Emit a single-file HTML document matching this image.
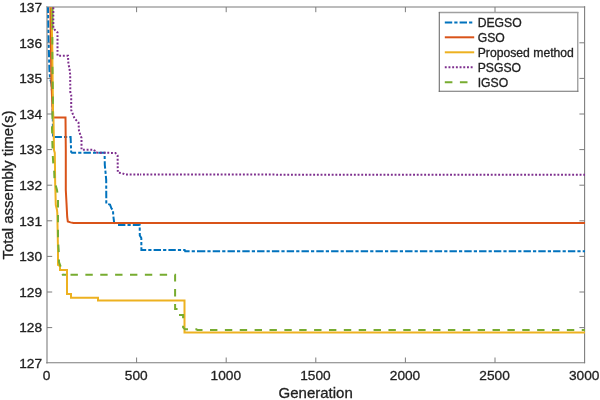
<!DOCTYPE html>
<html><head><meta charset="utf-8"><title>Convergence plot</title>
<style>html,body{margin:0;padding:0;background:#fff;}body{width:600px;height:400px;overflow:hidden;}</style>
</head><body>
<svg width="600" height="400" viewBox="0 0 600 400" style="display:block">
<rect width="600" height="400" fill="#fff"/>
<g fill="none">
<path d="M46.2,6.9 H585.1" stroke="#a6a6a6" stroke-width="1.5"/>
<path d="M47.0,6.2 V363.4" stroke="#a6a6a6" stroke-width="1.6"/>
<path d="M46.2,362.8 H585.1" stroke="#7d7d7d" stroke-width="1.1"/>
<path d="M584.6,6.2 V363.3" stroke="#7d7d7d" stroke-width="1.1"/>
<g stroke="#7d7d7d" stroke-width="1">
<path d="M136.6,362.7 v-5.2 M136.6,7.0 v5.2"/>
<path d="M226.2,362.7 v-5.2 M226.2,7.0 v5.2"/>
<path d="M315.8,362.7 v-5.2 M315.8,7.0 v5.2"/>
<path d="M405.4,362.7 v-5.2 M405.4,7.0 v5.2"/>
<path d="M495.0,362.7 v-5.2 M495.0,7.0 v5.2"/>
<path d="M47.0,327.6 h5.2 M584.6,327.6 h-5.2"/>
<path d="M47.0,292.0 h5.2 M584.6,292.0 h-5.2"/>
<path d="M47.0,256.4 h5.2 M584.6,256.4 h-5.2"/>
<path d="M47.0,220.8 h5.2 M584.6,220.8 h-5.2"/>
<path d="M47.0,185.2 h5.2 M584.6,185.2 h-5.2"/>
<path d="M47.0,149.6 h5.2 M584.6,149.6 h-5.2"/>
<path d="M47.0,114.0 h5.2 M584.6,114.0 h-5.2"/>
<path d="M47.0,78.4 h5.2 M584.6,78.4 h-5.2"/>
<path d="M47.0,42.8 h5.2 M584.6,42.8 h-5.2"/>
</g></g>
<g fill="none" stroke-width="2" stroke-linejoin="miter" stroke-linecap="butt">
<path d="M48.00,7.30 L48.60,40.00 L49.40,70.00 L50.00,78.00 L51.50,84.00 L52.60,100.00 L53.00,137.00 L70.60,137.00 L71.20,152.70" stroke="#0072BD" stroke-dasharray="7.4 2.1 3.2 2.1" stroke-dashoffset="-13.06"/>
<path d="M71.20,152.70 L104.60,152.70 L104.80,165.00 L105.50,172.00 L106.20,180.00 L106.30,203.60 L110.00,204.60 L111.50,208.50 L113.00,210.00 L113.20,215.00 L114.20,223.00 L116.00,225.00" stroke="#0072BD" stroke-dasharray="7.4 2.1 3.2 2.1" stroke-dashoffset="-12.30"/>
<path d="M116.00,225.00 L139.70,225.00 L139.80,235.50 L141.30,238.00 L141.40,249.90 L184.70,249.90 L185.20,251.30 L200.00,251.30" stroke="#0072BD" stroke-dasharray="7.4 2.1 3.2 2.1" stroke-dashoffset="-2.00"/>
<path d="M200.00,251.30 L585.00,251.30" stroke="#0072BD" stroke-dasharray="7.4 2.1 3.2 2.1" stroke-dashoffset="-12.70"/>
<path d="M50.40,7.30 L50.80,40.00 L51.40,80.00 L52.50,110.00 L53.00,117.50 L65.50,117.50 L65.80,150.00 L65.80,190.00 L66.50,203.00 L67.20,217.00 L67.80,221.50 L70.50,222.40 L73.50,223.00 L585.00,223.00" stroke="#D95319"/>
<path d="M51.60,7.30 L51.90,30.00 L52.30,50.00 L52.50,70.00 L53.00,110.00 L53.50,120.00 L54.00,150.00 L54.80,153.00 L55.20,185.00 L55.40,190.00 L55.80,205.00 L57.00,210.00 L57.30,213.00 L58.00,250.00 L58.00,265.00 L60.00,266.00 L60.00,270.00 L67.00,270.00 L67.00,294.00 L71.00,294.00 L71.00,297.80 L98.00,297.80 L98.00,300.60 L184.50,300.60 L184.50,332.45 L585.00,332.45" stroke="#EDB120"/>
<path d="M52.50,7.30 L52.50,24.00" stroke="#77AC30"/>
<path d="M52.50,22.20 L52.30,50.00 L52.50,70.00 L52.90,100.00 L52.50,115.00 L52.00,128.00 L52.40,144.00 L52.80,156.00 L53.30,164.00 L54.20,172.00 L54.50,180.00 L55.50,184.50 L57.00,190.00 L58.00,197.00 L58.00,240.00 L59.00,255.00 L59.00,262.00 L61.50,269.00 L62.80,274.70 L66.00,274.70" stroke="#77AC30" stroke-dasharray="7.4 7.47" stroke-dashoffset="-14.80"/>
<path d="M66.00,274.70 L175.10,274.70 L175.10,308.90 L179.00,308.90 L179.00,314.90 L183.10,314.90 L183.10,327.40 L185.00,329.30 L190.00,329.30" stroke="#77AC30" stroke-dasharray="7.4 7.47" stroke-dashoffset="-4.50"/>
<path d="M190.00,329.30 L196.50,329.30 L197.30,330.00 L585.00,330.00" stroke="#77AC30" stroke-dasharray="7.4 7.47" stroke-dashoffset="-5.39"/>
<path d="M53.30,7.30 L53.30,28.30 L57.50,32.50 L57.50,55.70 L68.00,55.70 L68.40,64.00 L69.50,68.50 L70.20,75.00 L70.30,92.00 L71.20,95.00 L71.20,110.00 L72.00,112.00 L74.50,118.50 L78.50,122.50 L79.00,131.00 L81.50,138.00 L81.50,149.70 L94.00,149.70 L96.00,152.60 L115.50,153.00 L117.60,155.50 L117.80,172.50 L122.00,173.20 L125.00,174.50 L140.00,174.60" stroke="#7E2F8E" stroke-dasharray="1.9 1.8" stroke-dashoffset="0.00"/>
<path d="M140.00,174.60 L276.00,174.60 L277.00,174.80 L585.00,174.80" stroke="#7E2F8E" stroke-dasharray="1.9 1.8" stroke-dashoffset="-3.00"/>
</g>
<g font-family="'Liberation Sans', Arial, Helvetica, sans-serif" font-size="13.7" fill="#222" stroke="#222" stroke-width="0.3">
<text x="46.6" y="380.25" text-anchor="middle">0</text>
<text x="136.2" y="380.25" text-anchor="middle">500</text>
<text x="225.8" y="380.25" text-anchor="middle">1000</text>
<text x="315.4" y="380.25" text-anchor="middle">1500</text>
<text x="405.0" y="380.25" text-anchor="middle">2000</text>
<text x="494.6" y="380.25" text-anchor="middle">2500</text>
<text x="584.2" y="380.25" text-anchor="middle">3000</text>
<text x="42.0" y="367.70" text-anchor="end">127</text>
<text x="42.0" y="332.40" text-anchor="end">128</text>
<text x="42.0" y="296.80" text-anchor="end">129</text>
<text x="42.0" y="261.20" text-anchor="end">130</text>
<text x="42.0" y="225.60" text-anchor="end">131</text>
<text x="42.0" y="190.00" text-anchor="end">132</text>
<text x="42.0" y="154.40" text-anchor="end">133</text>
<text x="42.0" y="118.80" text-anchor="end">134</text>
<text x="42.0" y="83.20" text-anchor="end">135</text>
<text x="42.0" y="47.60" text-anchor="end">136</text>
<text x="42.0" y="11.60" text-anchor="end">137</text>
</g>
<g font-family="'Liberation Sans', Arial, Helvetica, sans-serif" font-size="15" fill="#222" stroke="#222" stroke-width="0.3">
<text x="315.7" y="398.2" text-anchor="middle">Generation</text>
<text transform="translate(13.1,185.0) rotate(-90)" text-anchor="middle">Total assembly time(s)</text>
</g>
<rect x="439.3" y="12.5" width="138.5" height="78.8" fill="#fff"/>
<g fill="none">
<path d="M438.8,12.5 H578.4" stroke="#a0a0a0" stroke-width="1.4"/>
<path d="M577.75,12 V91.8" stroke="#a0a0a0" stroke-width="1.4"/>
<path d="M439.3,12 V91.9" stroke="#6e6e6e" stroke-width="1.1"/>
<path d="M438.8,91.3 H578.4" stroke="#6e6e6e" stroke-width="1.1"/>
</g>
<g fill="none" stroke-width="2">
<path d="M444.8,22.4 H474.2" stroke="#0072BD" stroke-dasharray="7.4 2.1 3.2 2.1"/>
<path d="M444.8,37.3 H474.2" stroke="#D95319"/>
<path d="M444.8,52.3 H474.2" stroke="#EDB120"/>
<path d="M444.8,67.2 H474.2" stroke="#7E2F8E" stroke-dasharray="1.9 1.8"/>
<path d="M444.8,82.3 H474.2" stroke="#77AC30" stroke-dasharray="7.6 7.5"/>
</g>
<g font-family="'Liberation Sans', Arial, Helvetica, sans-serif" font-size="12.2" fill="#222" stroke="#222" stroke-width="0.3">
<text x="477.7" y="26.7">DEGSO</text>
<text x="477.7" y="41.6">GSO</text>
<text x="477.7" y="56.6">Proposed method</text>
<text x="477.7" y="71.5">PSGSO</text>
<text x="477.7" y="86.6">IGSO</text>
</g>
</svg>
</body></html>
